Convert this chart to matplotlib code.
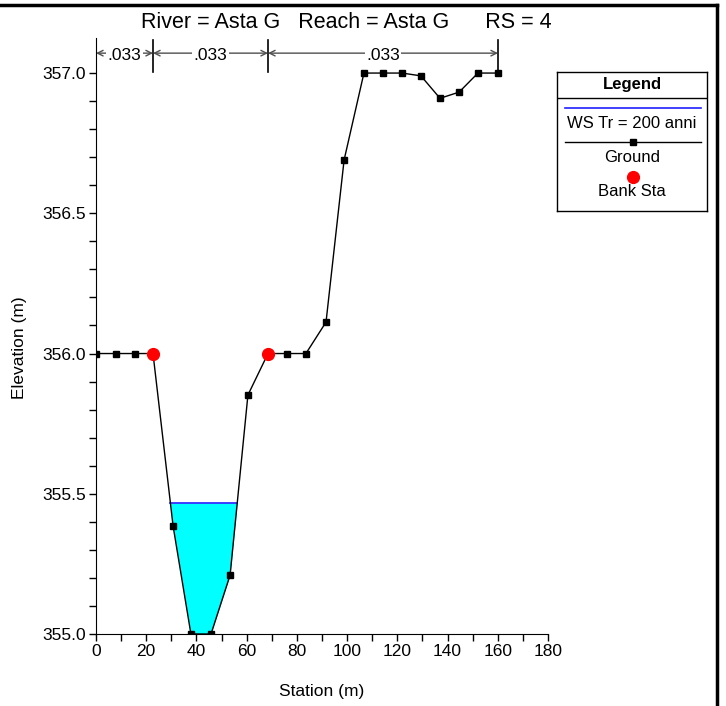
import matplotlib
matplotlib.use("Agg")
import matplotlib.pyplot as plt
import numpy as np
from matplotlib.ticker import FixedLocator, FormatStrFormatter
from matplotlib.lines import Line2D

plt.rcParams['font.family'] = ['Liberation Sans', 'DejaVu Sans']

# ground profile
station = [0, 8, 15.5, 22.7, 30.7, 37.8, 45.8, 53.4, 60.5, 68.5, 76.1,
           83.6, 91.6, 98.8, 106.7, 114.3, 121.9, 129.4, 137.0, 144.6, 152.1, 160.1]
elevation = [356.0, 356.0, 356.0, 356.0, 355.385, 355.0, 355.0, 355.21, 355.852, 356.0, 356.0,
             356.0, 356.112, 356.69, 357.0, 357.0, 357.0, 356.99, 356.91, 356.932, 357.0, 357.0]
bank_sta = [22.7, 68.5]
bank_elev = [356.0, 356.0]
ws_level = 355.467
n_breaks = [0, 22.7, 68.5, 160.1]
n_values = [".033", ".033", ".033"]

x = np.array(station)
z = np.array(elevation)

fig = plt.figure(figsize=(7.26, 7.06), dpi=100)
ax = fig.add_axes([96/726, 1 - 634/706, 452/726, 596/706])

# water surface crossings
cross = []
for i in range(len(x) - 1):
    a, b = z[i] - ws_level, z[i+1] - ws_level
    if a * b < 0:
        cross.append(x[i] + (x[i+1] - x[i]) * a / (a - b))
ax.fill_between(x, z, ws_level, where=z <= ws_level, interpolate=True,
                color='#00ffff', linewidth=0, zorder=1)
ax.plot([cross[0], cross[-1]], [ws_level, ws_level], color='#2020ff', lw=1.2, zorder=2)

ax.plot(x, z, color='black', lw=1, marker='s', markersize=5, zorder=3)
ax.plot(bank_sta, bank_elev, 'o', color='#ff0000', markersize=8.5, zorder=4, linestyle='none')

# manning n brackets
for b in n_breaks[1:]:
    ax.plot([b, b], [357.004, 357.118], color='black', lw=1.2, clip_on=False)
for i, n in enumerate(n_values):
    x0, x1 = n_breaks[i], n_breaks[i+1]
    ax.annotate('', xy=(x0, 357.071), xytext=(x1, 357.071),
                arrowprops=dict(arrowstyle='<->', color='#505050', lw=1,
                                shrinkA=0, shrinkB=0, mutation_scale=10))
    ax.text((x0 + x1) / 2, 357.064, n, ha='center', va='center', fontsize=12.5,
            bbox=dict(facecolor='white', edgecolor='none', pad=1))

ax.set_xlim(0, 180)
ax.set_ylim(355.0, 357.125)
ax.spines['top'].set_visible(False)
ax.spines['right'].set_visible(False)
ax.xaxis.set_major_locator(FixedLocator(np.arange(0, 181, 20)))
ax.xaxis.set_minor_locator(FixedLocator(np.arange(10, 180, 20)))
ax.yaxis.set_major_locator(FixedLocator([355.0, 355.5, 356.0, 356.5, 357.0]))
ax.yaxis.set_minor_locator(FixedLocator(np.arange(355.1, 357.0, 0.1)))
ax.yaxis.set_major_formatter(FormatStrFormatter('%.1f'))
ax.tick_params(which='both', direction='out', labelsize=12.5, width=1, length=5, pad=2)
ax.set_xlabel('Station (m)', fontsize=12.5, labelpad=18)
ax.set_ylabel('Elevation (m)', fontsize=12.5)
ax.yaxis.set_label_coords(-0.153, 0.48)

fig.text(346/726, 1 - 23/706, 'River = Asta G   Reach = Asta G      RS = 4',
         ha='center', va='center', fontsize=15.5)

# frame lines
fig.add_artist(Line2D([0, 717/726], [1 - 5/706, 1 - 5/706], color='black', lw=2.5))
fig.add_artist(Line2D([717/726, 717/726], [0, 1 - 5/706], color='black', lw=2.5))

# legend box
lg = fig.add_axes([557/726, 1 - 211/706, 150/726, 139/706])
lg.set_xlim(0, 150)
lg.set_ylim(139, 0)
lg.set_xticks([])
lg.set_yticks([])
for s in lg.spines.values():
    s.set_linewidth(1)
lg.axhline(25.5, color='black', lw=1)
lg.text(75, 12.5, 'Legend', ha='center', va='center', fontsize=12, fontweight='bold')
lg.plot([8, 144], [36, 36], color='#2020ff', lw=1.2)
lg.text(75, 51, 'WS Tr = 200 anni', ha='center', va='center', fontsize=12)
lg.plot([8, 144], [70, 70], color='black', lw=1)
lg.plot([76], [70], 's', color='black', markersize=5)
lg.text(75, 85, 'Ground', ha='center', va='center', fontsize=12)
lg.plot([76], [105], 'o', color='#ff0000', markersize=8.5)
lg.text(75, 120, 'Bank Sta', ha='center', va='center', fontsize=12)

fig.savefig('out.png', dpi=100)
